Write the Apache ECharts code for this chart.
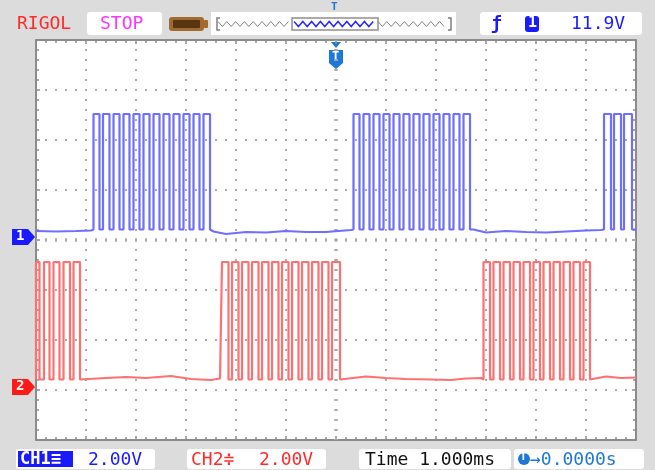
<!DOCTYPE html>
<html><head><meta charset="utf-8">
<script src="https://cdn.jsdelivr.net/npm/echarts@6/dist/echarts.min.js"></script>
<style>html,body{margin:0;padding:0;background:#dcdcdc;}#c{width:655px;height:470px;}</style>
</head><body><div id="c"></div>
<script>
// ---- data (time in ms, voltage in V) ----
const ch1Rises = [-4.85,-4.66,-4.45,-4.25,-4.05,-3.85,-3.65,-3.45,-3.25,-3.05,-2.85,-2.65,
                  0.35,0.55,0.75,0.95,1.15,1.35,1.55,1.75,1.95,2.15,2.35,2.55,
                  5.36,5.56,5.76];
const ch1Falls = [-4.73,-4.53,-4.33,-4.13,-3.93,-3.73,-3.53,-3.33,-3.13,-2.93,-2.73,-2.52,
                  0.47,0.67,0.87,1.07,1.27,1.47,1.67,1.87,2.07,2.27,2.47,2.68,
                  5.50,5.70,5.92];
const ch1Base = [[-6,0.24],[-5.6,0.22],[-5.2,0.24],[-4.9,0.26],
                 [-2.45,0.22],[-2.2,0.12],[-1.8,0.2],[-1.4,0.18],[-1.0,0.24],[-0.6,0.2],[-0.2,0.2],[0.3,0.28],
                 [2.75,0.3],[3.0,0.18],[3.4,0.24],[3.8,0.2],[4.2,0.18],[4.6,0.22],[5.0,0.26],[5.3,0.28],[6,0.3]];
const ch1High = 4.92, ch1Low = 0.3;

const ch2Rises = [-6.0,-5.84,-5.65,-5.45,-5.25,
                  -2.28,-2.08,-1.88,-1.68,-1.48,-1.28,-1.08,-0.88,-0.68,-0.48,-0.28,-0.08,
                  2.95,3.15,3.35,3.55,3.75,3.95,4.15,4.35,4.55,4.75,4.95];
const ch2Falls = [-5.93,-5.73,-5.53,-5.32,-5.12,
                  -2.15,-1.95,-1.75,-1.55,-1.35,-1.15,-0.95,-0.75,-0.55,-0.35,-0.15,0.08,
                  3.08,3.28,3.48,3.68,3.88,4.08,4.28,4.48,4.68,4.88,5.08];
const ch2Base = [[-5.08,0.32],[-4.6,0.36],[-4.2,0.4],[-3.8,0.36],[-3.3,0.44],[-2.9,0.32],[-2.5,0.28],[-2.32,0.34],
                 [0.12,0.36],[0.6,0.42],[1.0,0.36],[1.4,0.32],[1.9,0.3],[2.3,0.28],[2.6,0.34],[2.9,0.36],
                 [5.12,0.36],[5.4,0.42],[5.7,0.36],[6,0.38]];
const ch2High = 5.0, ch2Low = 0.3;

const ch1Ground = 0.06;   // divisions above screen centre
const ch2Ground = -2.94;
const voltsPerDiv = 2;

function buildTrace(rises, falls, base, hi, lo){
  const pairs = [];
  rises.forEach(t => pairs.push([[t, lo],[t, hi]]));
  falls.forEach(t => pairs.push([[t, hi],[t, lo]]));
  base.forEach(p => pairs.push([p]));
  pairs.sort((a,b)=>a[0][0]-b[0][0]);
  const out = [];
  pairs.forEach(p => p.forEach(q => out.push(q)));
  return out;
}
const ch1Data = buildTrace(ch1Rises, ch1Falls, ch1Base, ch1High, ch1Low);
const ch2Data = buildTrace(ch2Rises, ch2Falls, ch2Base, ch2High, ch2Low);

const chart = echarts.init(document.getElementById('c'), null, {renderer:'canvas'});
const G = {left:36, top:40, width:600, height:400};
const gridCol = '#ababab';
const borderCol = '#8c8c8c';

function borderX(pos, split){
  return {type:'value', position:pos, min:-6, max:6, interval:1, gridIndex:0,
    axisLine:{show:true, onZero:false, lineStyle:{color:borderCol, width:2}},
    axisTick:{show:true, inside:true, length:4, lineStyle:{color:borderCol, width:1.5}},
    minorTick:{show:true, splitNumber:5, length:3, lineStyle:{color:borderCol, width:1.5}},
    axisLabel:{show:false},
    splitLine:{show:split, lineStyle:{color:gridCol, width:2, type:[2,8], dashOffset:1}},
    minorSplitLine:{show:false}};
}
function borderY(pos, split){
  return {type:'value', position:pos, min:-4, max:4, interval:1, gridIndex:0,
    axisLine:{show:true, onZero:false, lineStyle:{color:borderCol, width:2}},
    axisTick:{show:true, inside:true, length:4, lineStyle:{color:borderCol, width:1.5}},
    minorTick:{show:true, splitNumber:5, length:3, lineStyle:{color:borderCol, width:1.5}},
    axisLabel:{show:false},
    splitLine:{show:split, lineStyle:{color:gridCol, width:2, type:[2,8], dashOffset:1}}};
}

// decorative zigzags for the memory bar
function zig(x0, x1, y, amp, step){
  const pts=[]; let k=0;
  for (let x=x0; x<=x1; x+=step){ pts.push([x, y + (k%2? amp:-amp)]); k++; }
  return pts;
}
const mono = 'DejaVu Sans Mono';
const graphics = [
  {type:'rect', shape:{x:0,y:0,width:655,height:470}, style:{fill:'#dcdcdc'}, z:-10},
  {type:'rect', shape:{x:36,y:40,width:600,height:400}, style:{fill:'#ffffff'}, z:-8},
  // top bar
  {type:'text', x:17, y:15, style:{text:'RIGOL', fill:'#ff2a2a', font:'18px '+mono}},
  {type:'rect', shape:{x:87,y:12,width:75,height:23,r:3}, style:{fill:'#ffffff'}},
  {type:'text', x:100, y:15, style:{text:'STOP', fill:'#ff33ff', font:'18px '+mono}},
  {type:'rect', shape:{x:169,y:17,width:35,height:14,r:3}, style:{fill:'#a06a30'}},
  {type:'rect', shape:{x:173,y:20,width:27,height:8,r:1}, style:{fill:'#5a3512'}},
  {type:'rect', shape:{x:204,y:20,width:4,height:8,r:1}, style:{fill:'#a06a30'}},
  {type:'rect', shape:{x:211,y:12,width:245,height:23}, style:{fill:'#ffffff'}},
  {type:'polyline', shape:{points:[[220,18],[217,18],[217,30],[220,30]]}, style:{stroke:'#808080', fill:null, lineWidth:1.5}},
  {type:'polyline', shape:{points:[[448,18],[451,18],[451,30],[448,30]]}, style:{stroke:'#808080', fill:null, lineWidth:1.5}},
  {type:'polyline', shape:{points:zig(218,292,24,2.5,4.4)}, style:{stroke:'#808080', fill:null, lineWidth:1}},
  {type:'polyline', shape:{points:zig(378,448,24,2.5,4.4)}, style:{stroke:'#808080', fill:null, lineWidth:1}},
  {type:'rect', shape:{x:292,y:18,width:86,height:12}, style:{stroke:'#909090', fill:null, lineWidth:1.5}},
  {type:'polyline', shape:{points:zig(294,376,24,2.5,4.4)}, style:{stroke:'#2a2aff', fill:null, lineWidth:1.5}},
  {type:'text', x:331, y:2, style:{text:'T', fill:'#1e78d7', font:'bold 11px '+mono}},
  {type:'rect', shape:{x:480,y:12,width:162,height:23,r:3}, style:{fill:'#ffffff'}},
  {type:'text', x:491, y:15, style:{text:'\u0192', fill:'#1a1aff', font:'bold 18px '+mono}},
  {type:'rect', shape:{x:525,y:16,width:14,height:16,r:3}, style:{fill:'#1a1aff'}},
  {type:'text', x:528, y:16, style:{text:'1', fill:'#ffffff', font:'bold 15px '+mono}},
  {type:'text', x:571, y:15, style:{text:'11.9V', fill:'#1a1aff', font:'18px '+mono}},
  // bottom bar
  {type:'rect', shape:{x:16,y:449,width:139,height:20,r:3}, style:{fill:'#ffffff'}},
  {type:'rect', shape:{x:18,y:451,width:55,height:16}, style:{fill:'#1a1aff'}},
  {type:'text', x:20, y:451, style:{text:'CH1\u2261', fill:'#ffffff', font:'bold 17px '+mono}},
  {type:'text', x:88, y:451, style:{text:'2.00V', fill:'#1a1aff', font:'18px '+mono}},
  {type:'rect', shape:{x:187,y:449,width:139,height:20,r:3}, style:{fill:'#ffffff'}},
  {type:'text', x:191, y:451, style:{text:'CH2\u2251', fill:'#ff2a2a', font:'18px '+mono}},
  {type:'text', x:259, y:451, style:{text:'2.00V', fill:'#ff2a2a', font:'18px '+mono}},
  {type:'rect', shape:{x:359,y:449,width:152,height:20,r:3}, style:{fill:'#ffffff'}},
  {type:'text', x:365, y:451, style:{text:'Time 1.000ms', fill:'#111111', font:'18px '+mono}},
  {type:'rect', shape:{x:514,y:449,width:130,height:20,r:3}, style:{fill:'#ffffff'}},
  {type:'circle', shape:{cx:524,cy:459,r:6}, style:{fill:'#1e78d7'}},
  {type:'text', x:520, y:452, style:{text:'T', fill:'#ffffff', font:'bold 11px '+mono}},
  {type:'text', x:530, y:451, style:{text:'\u21920.0000s', fill:'#1e78d7', font:'18px '+mono}},
  // channel markers
  {type:'polygon', shape:{points:[[12,229],[28,229],[35,237],[28,245],[12,245]]}, style:{fill:'#1a1aff'}},
  {type:'text', x:16, y:229, style:{text:'1', fill:'#ffffff', font:'bold 14px '+mono}},
  {type:'polygon', shape:{points:[[12,379],[28,379],[35,387],[28,395],[12,395]]}, style:{fill:'#ff1a1a'}},
  {type:'text', x:16, y:379, style:{text:'2', fill:'#ffffff', font:'bold 14px '+mono}},
  // trigger position marker
  {type:'polygon', shape:{points:[[331,42],[341,42],[336,48]]}, style:{fill:'#1e78d7'}},
  {type:'polygon', shape:{points:[[329,50],[343,50],[343,63],[336,69],[329,63]]}, style:{fill:'#1e78d7'}},
  {type:'text', x:332, y:51, style:{text:'T', fill:'#ffffff', font:'bold 12px '+mono}}
];

chart.setOption({
  animation:false,
  backgroundColor:'#dcdcdc',
  grid:[G],
  xAxis:[borderX('bottom', true), borderX('top', false)],
  yAxis:[borderY('left', true), borderY('right', false),
    {type:'value', show:false, gridIndex:0, min:(-4-ch1Ground)*voltsPerDiv, max:(4-ch1Ground)*voltsPerDiv},
    {type:'value', show:false, gridIndex:0, min:(-4-ch2Ground)*voltsPerDiv, max:(4-ch2Ground)*voltsPerDiv}],
  graphic:graphics,
  series:[
    {type:'line', xAxisIndex:0, yAxisIndex:0, data:[], silent:true, symbol:'none',
     markLine:{silent:true, symbol:'none', label:{show:false},
       data:[{xAxis:0, lineStyle:{color:gridCol, width:4, type:[1.5,8.5], dashOffset:0.75}},
             {yAxis:0, lineStyle:{color:gridCol, width:4, type:[1.5,8.5], dashOffset:0.75}}]}},
    {name:'CH1', type:'line', xAxisIndex:0, yAxisIndex:2, data:ch1Data, showSymbol:false, symbol:'none',
     lineStyle:{color:'#6e6eff', width:2.2}, z:5},
    {name:'CH2', type:'line', xAxisIndex:0, yAxisIndex:3, data:ch2Data, showSymbol:false, symbol:'none',
     lineStyle:{color:'#ff7070', width:2.2}, z:5}
  ]
});
</script></body></html>
